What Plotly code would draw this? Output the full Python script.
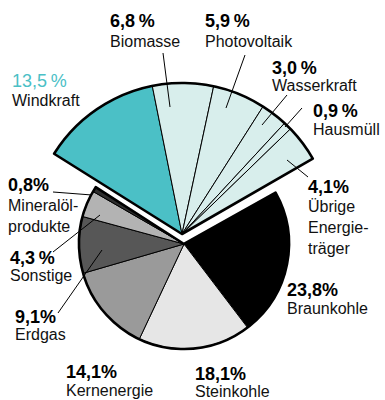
import plotly.graph_objects as go

# Anteile am Primärenergieverbrauch (Prozent)
renew_names = ["Windkraft", "Biomasse", "Photovoltaik", "Wasserkraft", "Hausmüll", "Übrige Energieträger"]
renew_values = [13.5, 6.8, 5.9, 3.0, 0.9, 4.1]
renew_colors = ["#4BC0C6", "#D8EEEC", "#D8EEEC", "#D8EEEC", "#D8EEEC", "#D8EEEC"]

fossil_names = ["Braunkohle", "Steinkohle", "Kernenergie", "Erdgas", "Sonstige", "Mineralölprodukte"]
fossil_values = [23.8, 18.1, 14.1, 9.1, 4.3, 0.8]
fossil_colors = ["#000000", "#E6E6E6", "#9A9A9A", "#575757", "#B3B3B3", "#2E2E2E"]

pct_labels = {
    "Windkraft": "13,5\u2009%", "Biomasse": "6,8\u2009%", "Photovoltaik": "5,9\u2009%",
    "Wasserkraft": "3,0\u2009%", "Hausmüll": "0,9\u2009%", "Übrige Energieträger": "4,1%",
    "Braunkohle": "23,8%", "Steinkohle": "18,1%", "Kernenergie": "14,1%",
    "Erdgas": "9,1%", "Sonstige": "4,3\u2009%", "Mineralölprodukte": "0,8%",
}
name_labels = {
    "Windkraft": "Windkraft", "Biomasse": "Biomasse", "Photovoltaik": "Photovoltaik",
    "Wasserkraft": "Wasserkraft", "Hausmüll": "Hausmüll",
    "Übrige Energieträger": "Übrige<br>Energie-<br>träger",
    "Braunkohle": "Braunkohle", "Steinkohle": "Steinkohle", "Kernenergie": "Kernenergie",
    "Erdgas": "Erdgas", "Sonstige": "Sonstige", "Mineralölprodukte": "Mineralöl-<br>produkte",
}

W, H = 385, 400
FONT = "Liberation Sans"

# label layout in pixels: x (left), y of percentage, y of name block centre
label_pos = {
    "Windkraft": (11, 81, 101),
    "Biomasse": (109, 21, 41),
    "Photovoltaik": (204, 21, 41),
    "Wasserkraft": (271, 68, 86),
    "Hausmüll": (312, 111, 130),
    "Übrige Energieträger": (307, 187, 228),
    "Braunkohle": (286, 290, 308),
    "Steinkohle": (194, 374, 391),
    "Kernenergie": (65, 372, 390),
    "Erdgas": (14, 317, 334),
    "Sonstige": (9, 258, 275),
    "Mineralölprodukte": (7, 185, 216),
}
leader_lines = {
    "Biomasse": ((163, 53), (170, 107)),
    "Photovoltaik": ((245, 55), (226, 108)),
    "Wasserkraft": ((287, 95), (262, 125)),
    "Hausmüll": ((302, 108), (285, 127)),
    "Übrige Energieträger": ((308, 177), (287, 160)),
    "Mineralölprodukte": ((53, 192), (92, 195)),
    "Sonstige": ((53, 252), (100, 215)),
    "Erdgas": ((58, 313), (102, 250)),
}


def domain(cx, cy, r):
    return dict(x=[(cx - r) / W, (cx + r) / W], y=[1 - (cy + r) / H, 1 - (cy - r) / H])


main_dom = domain(184, 244, 105)
renew_dom = domain(182, 234, 151)
renew_total = sum(renew_values)
fossil_total = sum(fossil_values)
CLEAR = "rgba(0,0,0,0)"

common = dict(sort=False, direction="clockwise", textinfo="none",
              hoverinfo="skip", showlegend=False)

fig = go.Figure()

# fossile / sonstige Energieträger (kleiner Kreis)
fig.add_trace(go.Pie(
    values=fossil_values + [renew_total],
    marker=dict(colors=fossil_colors + [CLEAR],
                line=dict(color=["#000"] * len(fossil_values) + [CLEAR],
                          width=[1] * len(fossil_values) + [0])),
    rotation=60.7, domain=main_dom, **common))

# erneuerbare Energien (größerer, abgesetzter Sektor)
fig.add_trace(go.Pie(
    values=renew_values + [fossil_total],
    marker=dict(colors=renew_colors + [CLEAR],
                line=dict(color=["#000"] * len(renew_values) + [CLEAR],
                          width=[1] * len(renew_values) + [0])),
    rotation=-57.9, domain=renew_dom, **common))

# kräftige Umrisse der beiden Gruppen
fig.add_trace(go.Pie(
    values=[fossil_total, renew_total],
    marker=dict(colors=[CLEAR, CLEAR], line=dict(color=["#000", CLEAR], width=[2.6, 0])),
    rotation=60.7, domain=main_dom, **common))
fig.add_trace(go.Pie(
    values=[renew_total, fossil_total],
    marker=dict(colors=[CLEAR, CLEAR], line=dict(color=["#000", CLEAR], width=[2.6, 0])),
    rotation=-57.9, domain=renew_dom, **common))

annotations = []
for name in renew_names + fossil_names:
    x, ypct, yname = label_pos[name]
    is_wind = name == "Windkraft"
    annotations.append(dict(
        x=x / W, y=1 - ypct / H, xref="paper", yref="paper",
        xanchor="left", yanchor="middle", showarrow=False, borderpad=0,
        text=pct_labels[name] if is_wind else "<b>" + pct_labels[name] + "</b>",
        font=dict(family=FONT, size=18, color="#4BC0C6" if is_wind else "#000"),
    ))
    annotations.append(dict(
        x=x / W, y=1 - yname / H, xref="paper", yref="paper",
        xanchor="left", yanchor="middle", align="left", showarrow=False, borderpad=0,
        text=name_labels[name],
        font=dict(family=FONT, size=16, color="#111"),
    ))

shapes = []
for name, ((x0, y0), (x1, y1)) in leader_lines.items():
    shapes.append(dict(type="line", xref="paper", yref="paper",
                       x0=x0 / W, y0=1 - y0 / H, x1=x1 / W, y1=1 - y1 / H,
                       line=dict(color="#000", width=1)))

fig.update_layout(
    width=W, height=H, margin=dict(l=0, r=0, t=0, b=0),
    paper_bgcolor="white", plot_bgcolor="white",
    annotations=annotations, shapes=shapes,
)

fig.write_html("out.html")
